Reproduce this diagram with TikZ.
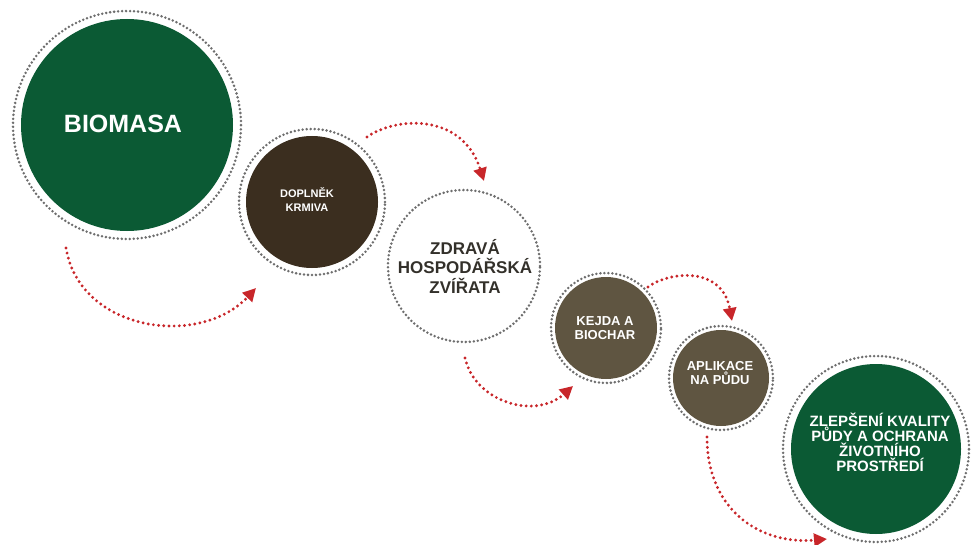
\documentclass[tikz,border=0pt]{standalone}
\usepackage{fontspec}
\setmainfont{Liberation Sans}
\usetikzlibrary{arrows.meta}
\definecolor{cgreen}{HTML}{0B5A34}
\definecolor{cdark}{HTML}{3B2E1F}
\definecolor{colive}{HTML}{5F5541}
\definecolor{cred}{HTML}{C8262A}
\definecolor{cring}{HTML}{6E6E6E}
\definecolor{ctext}{HTML}{33302A}
\tikzset{
  disc/.style={circle, inner sep=0pt, align=center, text=white},
  label/.style={inner sep=0pt, align=center, text=white},
  ring/.style={draw=cring, line width=2.8pt, dash pattern=on 0pt off 4pt, line cap=round},
  flow/.style={draw=cred, line width=3.2pt, dash pattern=on 0pt off 5.2pt, line cap=round,
    -{Triangle[length=13pt,width=13pt,fill=cred]}},
}
\newcommand{\fs}[2]{\bfseries\fontsize{#1}{#2}\selectfont}
\begin{document}
\begin{tikzpicture}[x=1pt,y=-1pt]
\useasboundingbox (0,0) rectangle (973,545);
% circles
\node[disc, fill=cgreen, minimum size=212pt] (bio) at (127,125) {};
\node[label, font=\fs{25}{28}] (biot) at (123,124) {BIOMASA};
\draw[ring] (bio.center) circle[radius=114pt];
\node[disc, fill=cdark, minimum size=132pt] (dop) at (312,202) {};
\node[label, font=\fs{11}{14}] (dopt) at (307,200) {DOPLNĚK\\KRMIVA};
\draw[ring] (dop.center) circle[radius=73pt];
\node[disc, minimum size=152pt] (zdr) at (464,266) {};
\node[label, text=ctext, font=\fs{17}{19.5}] (zdrt) at (465,266) {ZDRAVÁ\\HOSPODÁŘSKÁ\\ZVÍŘATA};
\draw[ring] (zdr.center) circle[radius=76pt];
\node[disc, fill=colive, minimum size=102pt] (kej) at (606,328) {};
\node[label, font=\fs{13}{13.5}] (kejt) at (605,328) {KEJDA A\\BIOCHAR};
\draw[ring] (kej.center) circle[radius=55pt];
\node[disc, fill=colive, minimum size=96pt] (apl) at (721,378) {};
\node[label, font=\fs{13}{13.5}] (aplt) at (720,373) {APLIKACE\\NA PŮDU};
\draw[ring] (apl.center) circle[radius=52pt];
\node[disc, fill=cgreen, minimum size=170pt] (zle) at (876,449) {};
\node[label, font=\fs{15}{15}] (zlet) at (880,442) {ZLEPŠENÍ KVALITY\\PŮDY A OCHRANA\\ŽIVOTNÍHO\\PROSTŘEDÍ};
\draw[ring] (zle.center) circle[radius=93pt];
% arrow end points
\coordinate (a1s) at (66,248);  \coordinate (a1e) at (256,288);
\coordinate (a2s) at (367,137); \coordinate (a2e) at (484,181);
\coordinate (a3s) at (465,358); \coordinate (a3e) at (573,386);
\coordinate (a4s) at (648,287); \coordinate (a4e) at (732,321);
\coordinate (a5s) at (707,437); \coordinate (a5e) at (827,539);
% arrows
\draw[flow] (a1s) .. controls (80,332) and (200,348) .. (a1e);
\draw[flow] (a2s) .. controls (395,117) and (462,112) .. (a2e);
\draw[flow] (a3s) .. controls (475,402) and (535,420) .. (a3e);
\draw[flow] (a4s) .. controls (670,271) and (722,266) .. (a4e);
\draw[flow] (a5s) .. controls (707,510) and (760,545) .. (a5e);
\end{tikzpicture}
\end{document}
